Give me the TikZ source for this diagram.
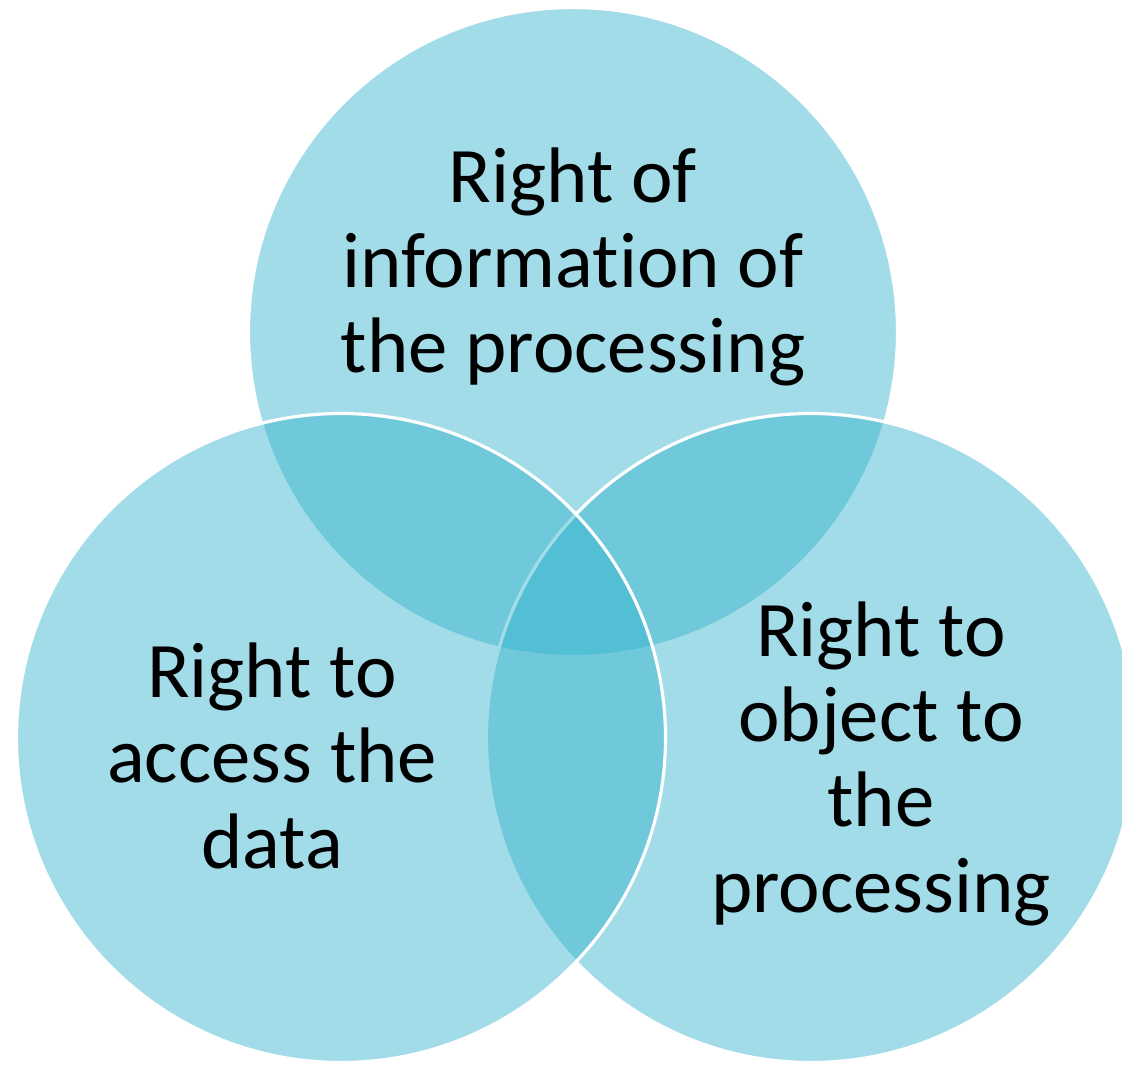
\documentclass[tikz,border=0pt]{standalone}
\usepackage{fontspec}
\setmainfont{Carlito}[Ligatures={NoCommon}]
\definecolor{vennblue}{RGB}{49,178,204}
\begin{document}
\begin{tikzpicture}[
  venn/.style={circle, minimum size=6.49cm, inner sep=0pt, fill=vennblue, fill opacity=0.45, draw=white, draw opacity=1, line width=0.9pt},
  label/.style={align=center, text=black, font=\fontsize{22.4pt}{24.2pt}\selectfont, inner sep=0pt, anchor=base}
]
\useasboundingbox (0,0) rectangle (11.22,10.64);
% circles: top first, then right, then left
\node[venn] (top) at (5.73,7.32) {};
\node[venn] (right) at (8.11,3.26) {};
\node[venn] (left) at (3.41,3.26) {};
% labels (anchored at the baseline of their last line)
\node[label] (ttop) at (5.73,6.91) {Right of\\information of\\the processing};
\node[label] (tleft) at (2.72,1.96) {Right to\\access the\\data};
\node[label] (tright) at (8.81,1.52) {Right to\\object to\\the\\processing};
\end{tikzpicture}
\end{document}
